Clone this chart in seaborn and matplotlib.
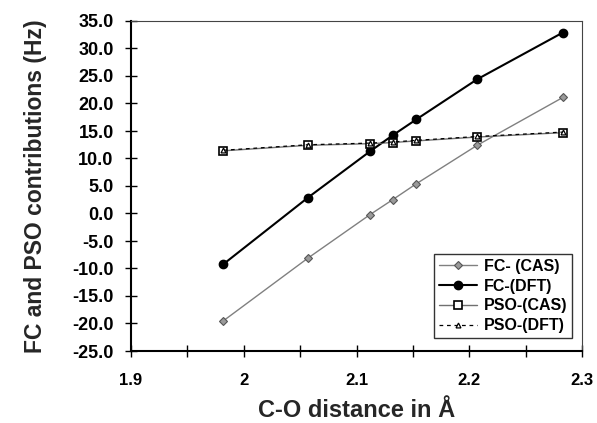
import matplotlib
matplotlib.use("Agg")
import matplotlib.pyplot as plt
import seaborn as sns
import pandas as pd
from matplotlib.ticker import MultipleLocator, FormatStrFormatter

distance = [1.982, 2.057, 2.112, 2.132, 2.153, 2.207, 2.283]
fc_cas = [-19.5, -8.1, -0.2, 2.5, 5.4, 12.4, 21.1]
fc_dft = [-9.2, 2.9, 11.3, 14.2, 17.1, 24.4, 32.9]
pso_cas = [11.4, 12.4, 12.7, 12.9, 13.2, 13.9, 14.7]
pso_dft = [11.5, 12.5, 12.8, 13.0, 13.3, 14.0, 14.8]

sns.set_theme(style="white")
plt.rcParams['font.family'] = ['Liberation Sans', 'DejaVu Sans']

fig = plt.figure(figsize=(5.97, 4.23), dpi=100)
ax = fig.add_axes([131 / 597, 1 - 351 / 423, 451 / 597, 330 / 423])

series = [
    ("FC- (CAS)", fc_cas, dict(color="#808080", lw=1.0, ls="-", marker="D", ms=4.5,
                               mfc="#9a9a9a", mec="#555555", mew=0.8)),
    ("FC-(DFT)", fc_dft, dict(color="black", lw=1.5, ls="-", marker="o", ms=6,
                              mfc="black", mec="black")),
    ("PSO-(CAS)", pso_cas, dict(color="#707070", lw=1.0, ls="-", marker="s", ms=5.5,
                                mfc="white", mec="black", mew=1.2)),
    ("PSO-(DFT)", pso_dft, dict(color="black", lw=0.9, ls=(0, (3, 3)), marker="^", ms=3.5,
                                mfc="white", mec="black", mew=0.9)),
]

for name, vals, st in series:
    df = pd.DataFrame({"x": distance, "y": vals})
    sns.lineplot(data=df, x="x", y="y", ax=ax, label=name, color=st["color"],
                 linewidth=st["lw"], linestyle=st["ls"], marker=st["marker"],
                 markersize=st["ms"], markerfacecolor=st["mfc"],
                 markeredgecolor=st["mec"], markeredgewidth=st.get("mew", 1.0))

ax.set_xlim(1.9, 2.3)
ax.set_ylim(-25, 35)
ax.xaxis.set_major_locator(MultipleLocator(0.1))
ax.xaxis.set_minor_locator(MultipleLocator(0.05))
ax.xaxis.set_major_formatter(FormatStrFormatter('%g'))
ax.yaxis.set_major_locator(MultipleLocator(5))
ax.yaxis.set_major_formatter(FormatStrFormatter('%.1f'))

ax.tick_params(axis='x', which='both', direction='inout', length=9, width=1,
               bottom=True, labelsize=12, pad=11, colors='black')
ax.tick_params(axis='y', which='major', direction='inout', length=9, width=1,
               left=True, labelsize=13, pad=8, colors='black')
for lab in ax.get_xticklabels() + ax.get_yticklabels():
    lab.set_fontweight('bold')

for side in ['top', 'right']:
    ax.spines[side].set_linewidth(0.8)
    ax.spines[side].set_color('#444444')
for side in ['left', 'bottom']:
    ax.spines[side].set_linewidth(1.5)
    ax.spines[side].set_color('black')

ax.set_xlabel("C-O distance in Å", fontsize=17, fontweight='bold', labelpad=8)
ax.set_ylabel("FC and PSO contributions (Hz)", fontsize=16.5, fontweight='bold', labelpad=18)

leg = ax.legend(loc='lower right', bbox_to_anchor=(572 / 597, 1 - 338 / 423),
                bbox_transform=fig.transFigure, fontsize=11.5,
                frameon=True, fancybox=False,
                edgecolor='black', borderpad=0.3, handlelength=2.4, labelspacing=0.3,
                handletextpad=0.4, borderaxespad=0.0)
for t in leg.get_texts():
    t.set_fontweight('bold')
    t.set_color('black')
leg.get_frame().set_linewidth(1.0)

fig.savefig("out.png", dpi=100)
